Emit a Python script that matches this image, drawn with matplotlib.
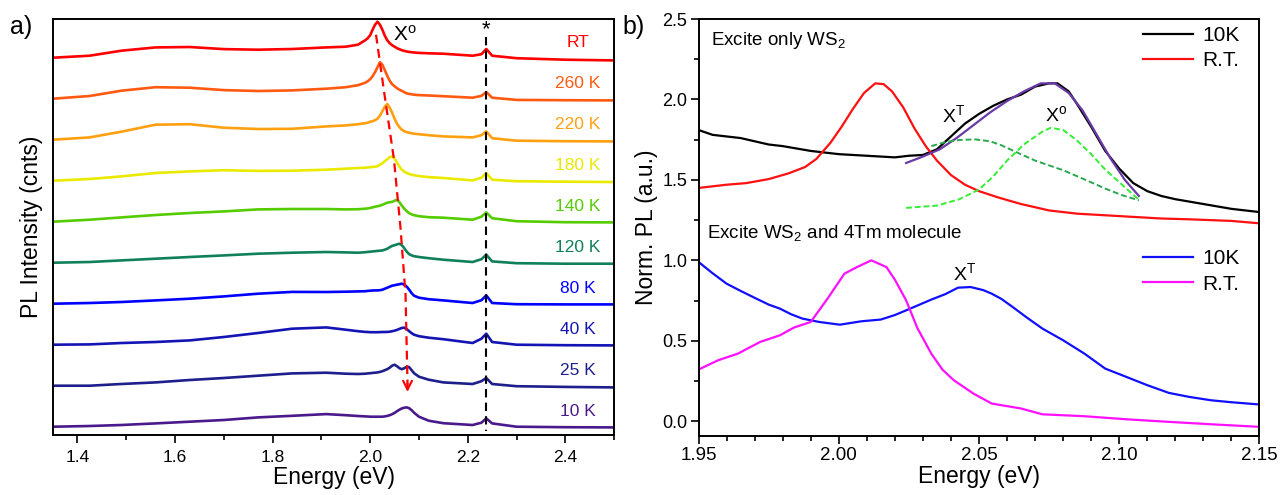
import numpy as np
import matplotlib.pyplot as plt
from matplotlib.ticker import MultipleLocator

plt.rcParams['font.family'] = ['Liberation Sans', 'DejaVu Sans']
plt.rcParams['mathtext.default'] = 'regular'
plt.rcParams['lines.solid_joinstyle'] = 'round'

# ---------------- panel a: PL vs temperature (height above each trace baseline)
energy_a = [1.35, 1.425, 1.49, 1.56, 1.63, 1.70, 1.77, 1.84, 1.91, 1.95, 1.975,
            1.99, 1.995, 2.00, 2.005, 2.01, 2.015, 2.02, 2.025, 2.03, 2.035, 2.04,
            2.045, 2.05, 2.055, 2.06, 2.065, 2.07, 2.075, 2.08, 2.085, 2.09, 2.10,
            2.12, 2.15, 2.21, 2.228, 2.238, 2.25, 2.30, 2.40, 2.50]

temps = ['RT', '260 K', '220 K', '180 K', '140 K', '120 K', '80 K', '40 K', '25 K', '10 K']

pl_rt = [0, 2, 7, 10.3, 10.7, 8.6, 8, 8.7, 10.3, 11, 13,
         17.5, 19.5, 22.5, 28, 33, 36, 33, 28, 22, 17.5, 14.5,
         12.5, 11, 9.5, 8.5, 7.5, 6.8, 6.2, 5.8, 5.5, 5.2, 4.8,
         4.4, 4, 2, 3.5, 8.7, 2, -0.5, -2, -2.7]
pl_260 = [0, 2.7, 8, 11.5, 11, 8.6, 7.7, 8.3, 10, 11.5, 13.5,
          16, 17.5, 19.5, 22.5, 26.5, 31.5, 36.5, 34, 28.5, 23, 18,
          14.5, 12.5, 10.5, 9, 7.8, 6.5, 5.3, 4.8, 4.4, 4, 3.6,
          3.2, 2.5, 1, 2.8, 6.7, 1, -1.2, -1.5, -1.7]
pl_220 = [0, 2.3, 8, 15, 15.5, 12, 10.7, 10.9, 13.3, 14.3, 15.5,
          16.5, 17, 18, 18.5, 19.5, 21, 24, 28.5, 33, 35.7, 32,
          27, 21, 16, 12.5, 10, 8.5, 7.5, 7, 6.5, 6, 5.5,
          4.5, 3.3, 2.3, 4.5, 8.3, 1.5, -1, -1.5, -1.7]
pl_180 = [0, 1.7, 4.3, 7.7, 9.3, 10.5, 9.8, 10, 11, 12, 12.7,
          13, 13.3, 13.5, 13.8, 14, 14.5, 16, 17.5, 19.5, 21.5, 23.5,
          24.3, 22, 18.5, 14, 11, 9, 7.7, 6.8, 6, 5.5, 4.6,
          3.6, 2.7, 0.3, 3, 7.7, 1, -0.5, -1, -1.3]
pl_140 = [0, 2, 4.3, 6.7, 8.7, 10.3, 12.3, 12.7, 12.7, 12.3, 12.5,
          13, 13.3, 13.8, 14.3, 15, 15.5, 16, 17, 18, 19, 19.5,
          19.8, 21, 22, 19.5, 16, 13, 10.5, 8.5, 7.3, 6.5, 5.5,
          4.5, 4, 2, 5, 9.3, 3.5, 0.5, -0.5, -0.7]
pl_120 = [0, 0.7, 2.3, 4, 5.7, 7.3, 9, 10, 10.7, 10.3, 10,
          10.5, 10.8, 11, 11.3, 11.5, 11.8, 12, 12.3, 13, 14, 15.5,
          16.8, 17.5, 18.3, 19, 17.5, 14.5, 11, 8.5, 7.3, 6.5, 5.7,
          4.5, 3, 0.7, 3.5, 8, 1.3, -0.5, -1, -1]
pl_80 = [0, 0.7, 1.7, 3.3, 5, 7.3, 10, 11.8, 11.7, 12, 12.3,
         12.5, 12.8, 13, 13.2, 13.3, 13.3, 13.5, 14, 15, 16, 17,
         18, 18.5, 19, 19.5, 20, 19, 17, 14, 10.5, 8, 6,
         4.5, 3.3, 0.7, 3.5, 8.3, 0.7, -0.5, -0.7, -0.7]
pl_40 = [0, 0.3, 1.7, 2.7, 4.3, 7.7, 11.7, 16, 17.3, 15, 13.5,
         12.8, 12.7, 12.5, 12.5, 12.5, 12.5, 12.6, 12.7, 12.7, 12.8, 13,
         13.5, 14, 14.8, 15.8, 16.8, 17, 15.5, 13.5, 11.5, 10, 8.5,
         7, 5.5, 1.7, 6, 11, 2.7, 0, -0.5, -0.7]
pl_25 = [0, 0, 1.7, 3.3, 5.7, 7.7, 10, 12.3, 13, 12, 11.7,
         12, 12.3, 12.5, 12.8, 13, 13.3, 13.8, 14.5, 15.5, 16.5, 18,
         20, 21, 19.5, 17.5, 16.5, 17.5, 19, 18.5, 15.5, 12.5, 9,
         6, 3.3, 1.7, 4.5, 7.7, 1.7, -0.5, -1.2, -1.7]
pl_10 = [0, 0.7, 1.7, 3.3, 5, 6.7, 9.3, 10.9, 12.6, 11.5, 10.7,
         10.3, 10.2, 10, 10, 10, 10, 10, 10, 10.3, 10.8, 11.5,
         12.5, 13.8, 15.5, 17, 18.3, 19, 19.3, 18.5, 16.5, 14, 10,
         6, 3.5, 1.7, 4, 8.3, 3.3, 0, -0.5, -0.7]
pl_series = [pl_rt, pl_260, pl_220, pl_180, pl_140, pl_120, pl_80, pl_40, pl_25, pl_10]

colors_a = ['#ff0000', '#ff5a10', '#ffa010', '#eaea00', '#55cc00',
            '#10805a', '#0000ff', '#1414b4', '#1e1e8c', '#4a1a8c']

# guide lines: X0 peak shift (red) and the * line (black)
x0_shift_e = [2.012, 2.030, 2.0486, 2.062, 2.0725, 2.0766]
x0_shift_y = [392, 330, 268, 200, 132, 32]
star_e = 2.238

# ---------------- panel b: normalised PL
# excite only WS2
e_10k_a = [1.950, 1.955, 1.960, 1.965, 1.970, 1.975, 1.980, 1.985, 1.990, 1.995,
           2.000, 2.005, 2.010, 2.015, 2.020, 2.025, 2.030, 2.035, 2.040, 2.045,
           2.050, 2.055, 2.060, 2.065, 2.070, 2.075, 2.078, 2.082, 2.085, 2.090,
           2.095, 2.100, 2.105, 2.110, 2.115, 2.120, 2.130, 2.140, 2.150]
pl_10k_a = [1.81, 1.78, 1.77, 1.76, 1.74, 1.72, 1.71, 1.695, 1.68, 1.67,
            1.66, 1.655, 1.65, 1.645, 1.64, 1.65, 1.655, 1.69, 1.77, 1.85,
            1.91, 1.96, 2.00, 2.03, 2.08, 2.10, 2.10, 2.05, 1.97, 1.83,
            1.68, 1.57, 1.48, 1.43, 1.40, 1.38, 1.35, 1.32, 1.30]
e_rt_a = [1.950, 1.960, 1.967, 1.975, 1.982, 1.988, 1.992, 1.997, 2.001, 2.005,
          2.009, 2.013, 2.016, 2.019, 2.023, 2.027, 2.031, 2.035, 2.040, 2.045,
          2.050, 2.057, 2.065, 2.075, 2.085, 2.100, 2.115, 2.125, 2.140, 2.150]
pl_rt_a = [1.45, 1.47, 1.48, 1.505, 1.54, 1.58, 1.63, 1.73, 1.83, 1.94,
           2.04, 2.10, 2.095, 2.05, 1.95, 1.82, 1.71, 1.62, 1.53, 1.47,
           1.43, 1.39, 1.35, 1.31, 1.29, 1.275, 1.26, 1.255, 1.245, 1.23]
e_fit = [2.024, 2.030, 2.036, 2.042, 2.048, 2.054, 2.060, 2.066, 2.072, 2.077,
         2.082, 2.087, 2.092, 2.097, 2.102, 2.107]
pl_fit = [1.605, 1.645, 1.69, 1.76, 1.84, 1.92, 1.99, 2.05, 2.10, 2.10,
          2.04, 1.93, 1.78, 1.63, 1.50, 1.40]
e_xt = [2.033, 2.038, 2.043, 2.0485, 2.054, 2.058, 2.063, 2.070, 2.080, 2.088,
        2.095, 2.101, 2.107]
pl_xt = [1.71, 1.735, 1.748, 1.752, 1.74, 1.715, 1.675, 1.62, 1.56, 1.50,
         1.446, 1.405, 1.373]
e_x0 = [2.024, 2.035, 2.043, 2.050, 2.055, 2.060, 2.066, 2.0726, 2.0756, 2.080,
        2.0846, 2.090, 2.095, 2.101, 2.107]
pl_x0 = [1.326, 1.34, 1.38, 1.44, 1.52, 1.62, 1.72, 1.80, 1.824, 1.81,
         1.75, 1.66, 1.564, 1.47, 1.377]

# excite WS2 and 4Tm molecule
e_10k_b = [1.95, 1.955, 1.96, 1.965, 1.9706, 1.975, 1.979, 1.983, 1.987, 1.993,
           2.0004, 2.008, 2.015, 2.020, 2.024, 2.033, 2.038, 2.0425, 2.047, 2.0515,
           2.0545, 2.058, 2.062, 2.067, 2.0726, 2.080, 2.0876, 2.095, 2.1026, 2.110,
           2.1177, 2.125, 2.1328, 2.140, 2.15]
pl_10k_b = [0.99, 0.92, 0.855, 0.81, 0.762, 0.725, 0.70, 0.665, 0.638, 0.617,
            0.60, 0.621, 0.632, 0.66, 0.689, 0.756, 0.79, 0.83, 0.834, 0.815,
            0.793, 0.76, 0.71, 0.645, 0.576, 0.503, 0.42, 0.327, 0.275, 0.224,
            0.176, 0.151, 0.13, 0.118, 0.104]
e_rt_b = [1.95, 1.957, 1.964, 1.972, 1.979, 1.984, 1.990, 1.996, 2.002, 2.0065,
          2.0116, 2.017, 2.020, 2.024, 2.028, 2.033, 2.037, 2.041, 2.048, 2.0545,
          2.065, 2.0726, 2.0876, 2.1026, 2.1177, 2.1328, 2.15]
pl_rt_b = [0.321, 0.379, 0.42, 0.493, 0.534, 0.582, 0.617, 0.762, 0.917, 0.958,
           1.0, 0.958, 0.88, 0.752, 0.58, 0.42, 0.32, 0.255, 0.172, 0.11,
           0.079, 0.043, 0.031, 0.012, -0.004, -0.019, -0.035]

# ---------------- figure
fig = plt.figure(figsize=(12.81, 4.95), dpi=100)
axa = fig.add_axes([0.0414, 0.1212, 0.438, 0.8404])
axb = fig.add_axes([0.5453, 0.1198, 0.4379, 0.8418])

spacing = 41
n = len(pl_series)
for i, (lab, vals, c) in enumerate(zip(temps, pl_series, colors_a)):
    off = (n - 1 - i) * spacing
    axa.plot(energy_a, np.array(vals) + off, color=c, lw=1.9)
    axa.text(2.425, off + 15, lab, color=c, fontsize=12.5, ha='center', va='center')

axa.plot(x0_shift_e[:-1] + [x0_shift_e[-1]], x0_shift_y[:-1] + [x0_shift_y[-1] + 10],
         color='red', ls=(0, (4, 2.5)), lw=1.6)
axa.annotate('', xy=(x0_shift_e[-1], x0_shift_y[-1]), xytext=(x0_shift_e[-1], x0_shift_y[-1] + 14),
             arrowprops=dict(arrowstyle='->', color='red', lw=1.5, mutation_scale=16))
axa.plot([star_e, star_e], [390, -4], color='black', ls=(0, (4, 2.5)), lw=1.5)
axa.text(star_e, 397, '*', fontsize=16, ha='center', va='center')
axa.text(2.072, 392, 'X$^o$', fontsize=15, ha='center', va='center')

axa.set_xlim(1.35, 2.5)
axa.set_ylim(-8.3, 407.7)
axa.xaxis.set_major_locator(MultipleLocator(0.2))
axa.xaxis.set_minor_locator(MultipleLocator(0.1))
axa.set_yticks([])
axa.set_xlabel('Energy (eV)', fontsize=16.5, labelpad=1)
axa.set_ylabel('PL Intensity (cnts)', fontsize=16.5)
axa.yaxis.set_label_coords(-0.017, 0.5)

# panel b
l1, = axb.plot(e_10k_a, pl_10k_a, color='black', lw=1.6)
l2, = axb.plot(e_rt_a, pl_rt_a, color='#ff1010', lw=1.6)
axb.plot(e_fit, pl_fit, color='#6a3aa8', lw=1.6)
axb.plot(e_xt, pl_xt, color='#2aa850', lw=1.4, ls=(0, (3, 1.5)))
axb.plot(e_x0, pl_x0, color='#33ee33', lw=1.4, ls=(0, (3, 1.5)))
l3, = axb.plot(e_10k_b, pl_10k_b, color='#1010ff', lw=1.6)
l4, = axb.plot(e_rt_b, pl_rt_b, color='#ff10ff', lw=1.6)

leg_kw = dict(frameon=False, fontsize=15, handlelength=2.4, handletextpad=0.45,
              labelspacing=0.3, borderpad=0, borderaxespad=0)
leg1 = axb.legend([l1, l2], ['10K', 'R.T.'], loc='upper right',
                  bbox_to_anchor=(0.965, 0.983), **leg_kw)
axb.add_artist(leg1)
axb.legend([l3, l4], ['10K', 'R.T.'], loc='upper right',
           bbox_to_anchor=(0.965, 0.447), **leg_kw)

axb.text(1.9545, 2.369, 'Excite only WS$_2$', fontsize=13.5, ha='left', va='center')
axb.text(1.953, 1.168, 'Excite WS$_2$ and 4Tm molecule', fontsize=13.5, ha='left', va='center')
axb.text(2.041, 1.905, 'X$^T$', fontsize=14, ha='center', va='center')
axb.text(2.0775, 1.905, 'X$^o$', fontsize=14, ha='center', va='center')
axb.text(2.0447, 0.92, 'X$^T$', fontsize=14, ha='center', va='center')

axb.set_xlim(1.95, 2.15)
axb.set_ylim(-0.09, 2.5)
axb.xaxis.set_major_locator(MultipleLocator(0.05))
axb.xaxis.set_minor_locator(MultipleLocator(0.01))
axb.yaxis.set_major_locator(MultipleLocator(0.5))
axb.yaxis.set_minor_locator(MultipleLocator(0.25))
axb.xaxis.set_major_formatter(plt.FormatStrFormatter('%.2f'))
axb.yaxis.set_major_formatter(plt.FormatStrFormatter('%.1f'))
axb.set_xlabel('Energy (eV)', fontsize=16.5, labelpad=1)
axb.set_ylabel('Norm. PL (a.u.)', fontsize=16.5)
axb.yaxis.set_label_coords(-0.072, 0.5)

for ax in (axa, axb):
    for s in ax.spines.values():
        s.set_linewidth(1.4)
    ax.tick_params(which='major', direction='out', length=6, width=1.2, top=False, right=False)
    ax.tick_params(which='minor', direction='out', length=3.6, width=1.2, top=False, right=False)
axa.tick_params(axis='x', which='major', labelsize=12.5, pad=4.5)
axb.tick_params(axis='x', which='major', labelsize=13.5, pad=2)
axb.tick_params(axis='y', which='major', labelsize=13, pad=2)

fig.text(0.008, 0.945, 'a)', fontsize=18, ha='left', va='center')
fig.text(0.486, 0.945, 'b)', fontsize=18, ha='left', va='center')

fig.savefig('out.png', dpi=100)
